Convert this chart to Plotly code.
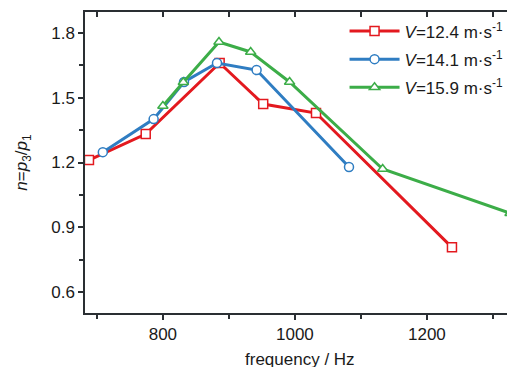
import plotly.graph_objects as go

freq_v124 = [688, 774, 886, 952, 1032, 1238]
n_v124 = [1.211, 1.332, 1.661, 1.471, 1.429, 0.807]

freq_v141 = [709, 786, 832, 882, 942, 1082]
n_v141 = [1.248, 1.401, 1.573, 1.661, 1.628, 1.179]

freq_v159 = [800, 831, 885, 933, 992, 1133, 1326]
n_v159 = [1.462, 1.572, 1.758, 1.712, 1.573, 1.170, 0.965]

labels = ["<i>V</i>=12.4 m·s<sup>-1</sup>",
          "<i>V</i>=14.1 m·s<sup>-1</sup>",
          "<i>V</i>=15.9 m·s<sup>-1</sup>"]
x_title = "frequency / Hz"
y_title = "<i>n</i>=<i>p</i><sub>3</sub>/<i>p</i><sub>1</sub>"
colors = ["#e3191f", "#2f7dc2", "#3cad48"]
symbols = ["square", "circle", "triangle-up"]

FONT = "Liberation Sans, Arial, sans-serif"
AX = "#2a2f33"

fig = go.Figure()
for i, (xs, ys, lab, c, s) in enumerate(zip([freq_v124, freq_v141, freq_v159],
                                            [n_v124, n_v141, n_v159], labels, colors, symbols)):
    fig.add_trace(go.Scatter(
        x=xs, y=ys, name=lab, mode="lines+markers", legendgroup=f"g{i}",
        line=dict(color=c, width=3),
        marker=dict(symbol=s, size=9, color="white", line=dict(color=c, width=1.5)),
    ))

fig.add_trace(go.Scatter(x=[None], y=[None], xaxis="x2", yaxis="y2", showlegend=False))

# page body has an 8px default margin; figure sized to the visible window
fig.update_layout(
    width=507, height=359,
    margin=dict(l=77, r=1, t=4, b=54, autoexpand=False),
    paper_bgcolor="white", plot_bgcolor="white",
    font=dict(family=FONT, size=17, color="#1a1a1a"),
    showlegend=True,
    legend=dict(x=0.605, y=0.995, xanchor="left", yanchor="top",
                bgcolor="rgba(0,0,0,0)", font=dict(size=17),
                itemwidth=50, traceorder="grouped", tracegroupgap=3),
    xaxis=dict(range=[682, 1332], tick0=800, dtick=200, ticks="outside",
               ticklen=5, tickwidth=1.5, tickcolor=AX, automargin=False,
               showline=True, linecolor=AX, linewidth=1.5,
               showgrid=False, zeroline=False,
               minor=dict(dtick=100, tick0=700, ticks="outside", ticklen=4,
                          tickwidth=1.5, tickcolor=AX),
               tickfont=dict(size=17)),
    yaxis=dict(range=[0.503, 1.897], tick0=0.6, dtick=0.3, ticks="outside",
               ticklen=5, tickwidth=1.5, tickcolor=AX, tickformat=".1f",
               showline=True, linecolor=AX, linewidth=1.5, automargin=False,
               showgrid=False, zeroline=False,
               minor=dict(dtick=0.15, ticks="outside", ticklen=4,
                          tickwidth=1.5, tickcolor=AX),
               title=dict(text=y_title, standoff=19, font=dict(size=17)),
               tickfont=dict(size=17)),
    xaxis2=dict(overlaying="x", matches="x", side="top", range=[682, 1332],
                tick0=700, dtick=100, ticks="inside", ticklen=5, tickwidth=1.5,
                tickcolor=AX, showticklabels=False, showline=True, automargin=False,
                linecolor=AX, linewidth=1.5, showgrid=False, zeroline=False),
    yaxis2=dict(overlaying="y", matches="y", side="right", range=[0.503, 1.897],
                tick0=0.6, dtick=0.15, ticks="inside", ticklen=5, tickwidth=1.5,
                tickcolor=AX, showticklabels=False, showline=True, automargin=False,
                linecolor=AX, linewidth=1.5, showgrid=False, zeroline=False),
    annotations=[dict(text=x_title, xref="paper", yref="paper", x=0.5, y=0,
                      xanchor="center", yanchor="top", yshift=-35,
                      showarrow=False, font=dict(size=17))],
)

fig.write_html("out.html")
